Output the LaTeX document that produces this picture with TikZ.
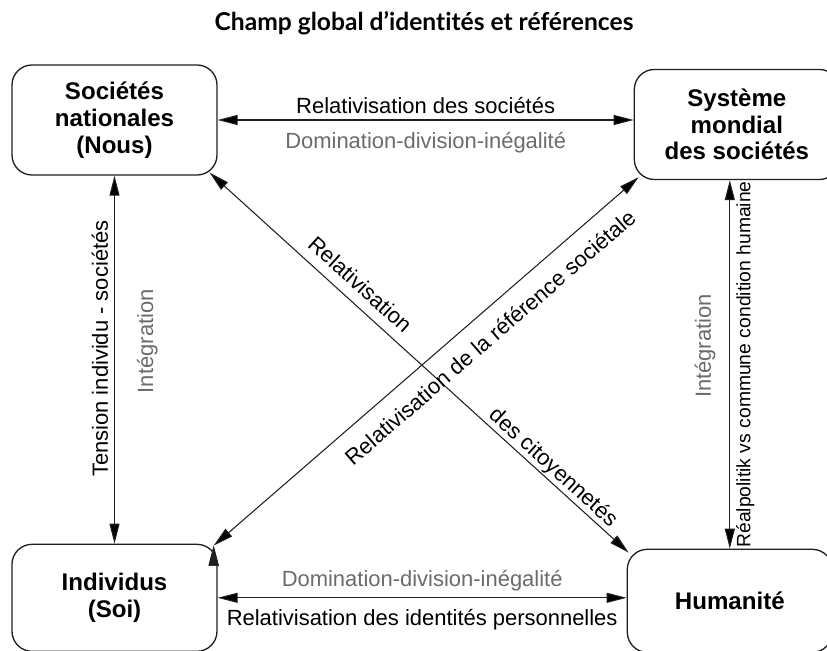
\documentclass[tikz,border=0pt]{standalone}
\usepackage{fontspec}
\setmainfont{Liberation Sans}
\newfontfamily\titrefont[Ligatures=CommonOff]{Lato}
\usetikzlibrary{positioning, arrows.meta, calc}

\definecolor{gristexte}{gray}{0.42}
\definecolor{trait}{gray}{0.12}

\begin{document}
\begin{tikzpicture}[node distance=8cm, auto, >={Triangle[length=0.4cm,width=0.2cm]},
    every node/.style={font=\fontsize{12.5}{14}\selectfont},
    pole/.style={draw=trait, line width=0.75pt, rounded corners=0.4cm, minimum width=4.1cm, minimum height=2.2cm, align=center, font=\fontsize{13.7}{15.2}\selectfont\bfseries},
    titre/.style={font=\titrefont\bfseries\fontsize{14}{16}\selectfont},
    gris/.style={text=gristexte}]

    \clip (0,0) rectangle (16.54,13.02);

    % Title
    \node[titre] (champ) at (8.48,12.55) {Champ global d’identités et références};

    % The four poles
    \node[pole] (nous) at (2.29,10.62) {Sociétés\\nationales\\(Nous)};
    \node[pole, right=8.32cm of nous, yshift=-0.09cm] (systeme) {Système\\mondial\\des sociétés};
    \node[pole, below=7.36cm of nous, minimum height=2.14cm] (soi) {Individus\\(Soi)};
    \node[pole, right=8.18cm of soi, yshift=-0.06cm, minimum height=2.06cm] (humanite) {Humanité};

    % The relations
    \path[<->, draw=trait, line width=0.6pt]
    (nous.east) edge node[above] {Relativisation des sociétés} node[below=0.12cm, gris] {Domination-division-inégalité} (nous.east -| systeme.west)
    (soi.east) edge node[above, gris] {Domination-division-inégalité} node[below=0.1cm] {Relativisation des identités personnelles} (soi.east -| humanite.west)
    (nous.south |- soi.north) edge node[sloped, above, pos=0.53] {Tension individu - sociétés} node[sloped, below=0.32cm, pos=0.55, gris] {Intégration} (nous.south)
    (humanite.north) edge node[sloped, above=0.16cm, pos=0.55, gris] {Intégration} node[sloped, below, pos=0.5, font=\fontsize{11}{13}\selectfont] {Réalpolitik vs commune condition humaine} (humanite.north |- systeme.south)
    ($(nous.south east)+(-0.16,0.06)$) edge node[sloped, above=0.08cm, pos=0.33] {Relativisation} node[sloped, above, pos=0.8, inner sep=0.5pt] {des citoyennetés} ($(humanite.north west)+(0.04,-0.08)$)
    ($(soi.north east)+(-0.08,-0.04)$) edge node[sloped, below=0.18cm, pos=0.614] {Relativisation de la référence sociétale} ($(systeme.south west)+(0.1,0.06)$);
\end{tikzpicture}
\end{document}
